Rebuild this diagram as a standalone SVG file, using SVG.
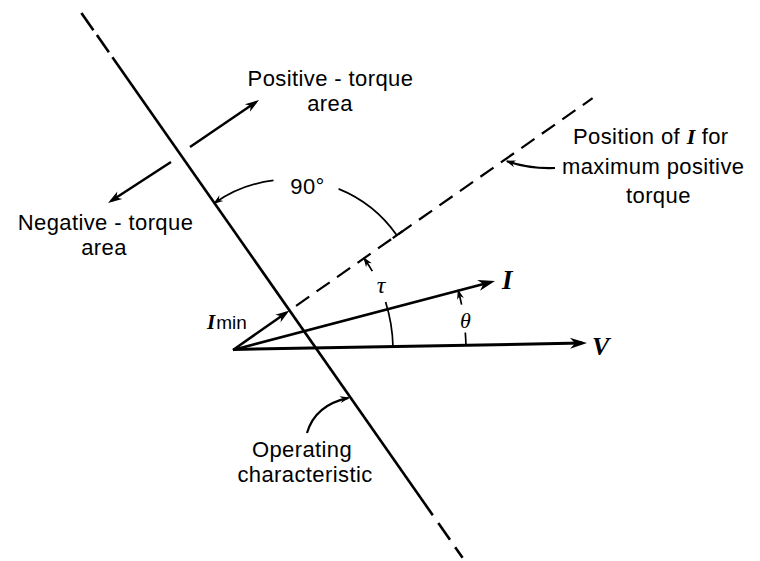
<svg xmlns="http://www.w3.org/2000/svg" width="760" height="561" viewBox="0 0 760 561">
<style>
.ln{fill:none;stroke:#000;stroke-linecap:butt}
.lbl{font-family:"Liberation Sans",Arial,sans-serif;font-size:22px;letter-spacing:0.4px;fill:#000}
.sym{font-family:"Liberation Serif","Times New Roman",serif;font-style:italic;fill:#000;letter-spacing:0}
</style>
<defs>
<marker id="ahBig" markerUnits="userSpaceOnUse" viewBox="-18 -6 19 12" markerWidth="19" markerHeight="12" refX="-5" refY="0" orient="auto">
<path d="M0,0 L-17,-5.5 L-12,0 L-17,5.5 Z" fill="#000"/>
</marker>
<marker id="ahMed" markerUnits="userSpaceOnUse" viewBox="-15 -5 16 10" markerWidth="16" markerHeight="10" refX="-4" refY="0" orient="auto">
<path d="M0,0 L-14,-4.5 L-10,0 L-14,4.5 Z" fill="#000"/>
</marker>
<marker id="ahSm" markerUnits="userSpaceOnUse" viewBox="-11 -4 12 8" markerWidth="12" markerHeight="8" refX="-1.5" refY="0" orient="auto">
<path d="M0,0 L-10,-3.5 L-7,0 L-10,3.5 Z" fill="#000"/>
</marker>
</defs>
<rect width="760" height="561" fill="#fff"/>
<g id="connectors">
<g id="operating-line" class="ln" stroke-width="2.6">
<line x1="81.4" y1="13" x2="93.4" y2="30.2"/>
<line x1="96.9" y1="35.1" x2="108.9" y2="52.3"/>
<line x1="112.4" y1="57.2" x2="432.8" y2="515.2"/>
<line x1="438.3" y1="523" x2="450" y2="539.8"/>
<line x1="455.2" y1="547.2" x2="462.6" y2="557.8"/>
</g>
<line id="max-torque-line" class="ln" stroke-width="2.2" stroke-dasharray="16 9" x1="296.1" y1="305.8" x2="592.6" y2="98.2"/>
<line class="ln" stroke-width="2.2" x1="392.7" y1="238.1" x2="402.6" y2="231.2"/>
<line id="vec-V" class="ln" stroke-width="3" x1="233" y1="349.5" x2="582" y2="343.1" marker-end="url(#ahBig)"/>
<line id="vec-I" class="ln" stroke-width="2.7" x1="233" y1="350" x2="490.2" y2="282.3" marker-end="url(#ahBig)"/>
<line id="vec-Imin" class="ln" stroke-width="2.5" x1="233" y1="350" x2="286.2" y2="312.7" marker-end="url(#ahMed)"/>
<line id="arrow-pos" class="ln" stroke-width="2.5" x1="190" y1="147" x2="255.7" y2="102.3" marker-end="url(#ahMed)"/>
<line id="arrow-neg" class="ln" stroke-width="2.5" x1="171" y1="162" x2="111.4" y2="200.8" marker-end="url(#ahMed)"/>
<path class="ln" stroke-width="1.7" d="M273.5,180.4 A131,131 0 0 0 214.4,203.1" marker-end="url(#ahSm)"/>
<path class="ln" stroke-width="1.7" d="M338.6,188.9 A131,131 0 0 1 396.8,235.3"/>
<path class="ln" stroke-width="1.7" d="M393,346.8 A160,160 0 0 0 385.6,301.9"/>
<path class="ln" stroke-width="1.7" d="M372.3,271.2 A160,160 0 0 0 364.1,258.2" marker-end="url(#ahSm)"/>
<path class="ln" stroke-width="1.7" d="M465.95,345.4 A233,233 0 0 0 465.3,332.5"/>
<path class="ln" stroke-width="1.7" d="M461.6,304.7 A233,233 0 0 0 458.3,290.7" marker-end="url(#ahSm)"/>
<path class="ln" stroke-width="2.2" d="M555,168 Q530,169 507,161.2" marker-end="url(#ahSm)"/>
<path class="ln" stroke-width="2.2" d="M307,433 Q315,405 348.5,397.8" marker-end="url(#ahSm)"/>
</g>
<g id="label-positive">
<text class="lbl" x="330.5" y="86" text-anchor="middle">Positive - torque</text>
<text class="lbl" x="330" y="111" text-anchor="middle">area</text>
</g>
<g id="label-negative">
<text class="lbl" x="105.5" y="230" text-anchor="middle">Negative - torque</text>
<text class="lbl" x="104" y="255" text-anchor="middle">area</text>
</g>
<g id="label-90">
<text class="lbl" x="307.5" y="194" text-anchor="middle" font-size="25">90°</text>
</g>
<g id="label-position">
<text class="lbl" x="573" y="144">Position of <tspan class="sym" font-weight="bold">I</tspan> for</text>
<text class="lbl" x="562" y="174">maximum positive</text>
<text class="lbl" x="626" y="203">torque</text>
</g>
<g id="label-operating">
<text class="lbl" x="302" y="457" text-anchor="middle">Operating</text>
<text class="lbl" x="305" y="482" text-anchor="middle">characteristic</text>
</g>
<g id="label-Imin">
<text x="207" y="329"><tspan class="sym" font-size="21" font-weight="bold">I</tspan><tspan font-family="Liberation Sans,Arial,sans-serif" font-size="19" dx="1">min</tspan></text>
</g>
<g id="label-I">
<text class="sym" x="502" y="289" font-size="27" font-weight="bold">I</text>
</g>
<g id="label-V">
<text class="sym" x="592" y="355" font-size="26" font-weight="bold">V</text>
</g>
<g id="label-theta">
<text class="sym" x="465.5" y="328" font-size="22" text-anchor="middle">θ</text>
</g>
<g id="label-tau">
<text class="sym" x="381" y="293" font-size="24" text-anchor="middle">τ</text>
</g>
</svg>
